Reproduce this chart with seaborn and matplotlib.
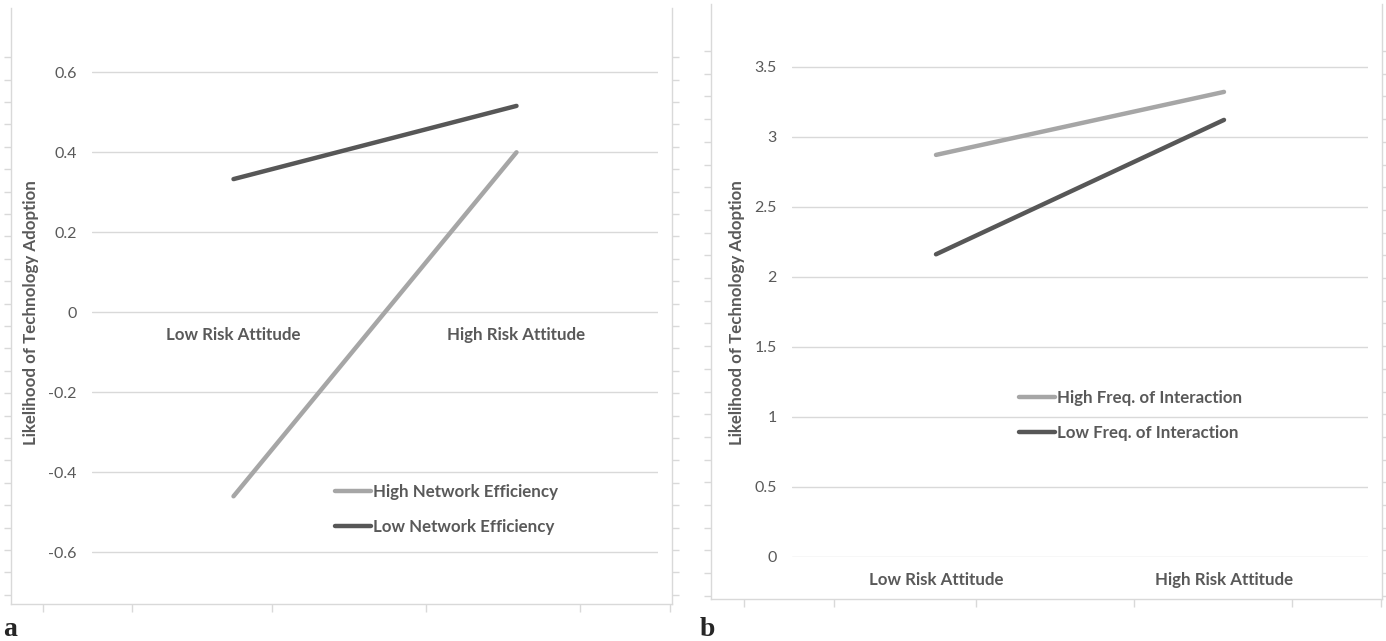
import numpy as np
import pandas as pd
import seaborn as sns
import matplotlib.pyplot as plt

# data
categories = ["Low Risk Attitude", "High Risk Attitude"]
a_groups = ["High Network Efficiency", "Low Network Efficiency"]
a_high = [-0.46, 0.40]
a_low = [0.333, 0.516]
a_yticks = [-0.6, -0.4, -0.2, 0, 0.2, 0.4, 0.6]

b_groups = ["High Freq. of Interaction", "Low Freq. of Interaction"]
b_high = [2.87, 3.32]
b_low = [2.16, 3.12]
b_yticks = [0, 0.5, 1, 1.5, 2, 2.5, 3, 3.5]

ylabel = "Likelihood of Technology Adoption"

sns.set_style("white")
plt.rcParams["font.family"] = ["Lato", "DejaVu Sans"]

W, H = 1386, 641
fig = plt.figure(figsize=(W / 100, H / 100), dpi=100, facecolor="white")

GRID = "#d9d9d9"
TXT = "#595959"
LIGHT = "#a6a6a6"
DARK = "#575757"


def px_axes(l, t, r, b):
    # figure fraction rect from pixel box (y from top)
    return [l / W, 1 - b / H, (r - l) / W, (b - t) / H]


def frame(l, t, r, b, side_start, side_step, bottom_ticks):
    fx = fig.add_axes(px_axes(l, t, r, b), facecolor="none", zorder=0)
    fx.set_xlim(l, r)
    fx.set_ylim(b, t)
    for s in ["left", "right", "bottom"]:
        fx.spines[s].set_color(GRID)
        fx.spines[s].set_linewidth(1)
    fx.spines["top"].set_visible(False)
    fx.set_yticks(np.arange(side_start, b - 3, side_step))
    fx.set_xticks(bottom_ticks)
    fx.tick_params(axis="y", left=True, right=True, direction="out", length=5,
                   width=1, color=GRID, labelleft=False)
    fx.tick_params(axis="x", bottom=True, direction="out", length=6,
                   width=1, color=GRID, labelbottom=False)
    fx.grid(False)


frame(11, 8, 672, 604, 57.3, 22.4, [42.5, 132, 271.5, 425.8, 580, 669.5])
frame(711, 4, 1382, 599, 51, 22.7, [743.5, 833.7, 975.6, 1134, 1291.5, 1380.8])


def panel(rect, groups, high, low, yticks, ylim, label_xy, leg_xy):
    ax = fig.add_axes(rect, facecolor="none", zorder=2)
    df = pd.DataFrame({
        "attitude": categories * 2,
        "value": high + low,
        "group": [groups[0]] * 2 + [groups[1]] * 2,
    })
    sns.lineplot(data=df, x="attitude", y="value", hue="group",
                 hue_order=groups, palette={groups[0]: LIGHT, groups[1]: DARK},
                 linewidth=3.2, solid_capstyle="round", ax=ax)
    ax.set_xlim(-0.5, 1.5)
    ax.set_ylim(*ylim)
    ax.set_yticks(yticks)
    ax.set_yticklabels([f"{v:g}" for v in yticks])
    ax.yaxis.grid(True, color=GRID, linewidth=1)
    ax.set_axisbelow(True)
    for s in ["left", "right", "top"]:
        ax.spines[s].set_visible(False)
    ax.spines["bottom"].set_position(("data", 0))
    ax.spines["bottom"].set_visible(False)
    ax.tick_params(axis="y", length=0, pad=11, labelsize=11.5, labelcolor=TXT)
    ax.tick_params(axis="x", length=0, pad=10.8, labelsize=12.2, labelcolor=TXT)
    for t in ax.get_xticklabels():
        t.set_fontweight("bold")
    ax.set_xlabel("")
    ax.set_ylabel(ylabel, fontsize=12.2, fontweight="bold", color=TXT)
    ax.yaxis.set_label_coords(*label_xy)
    handles, labels = ax.get_legend_handles_labels()
    leg = ax.legend(handles, labels, loc="center left",
                    bbox_to_anchor=(leg_xy[0] / W, 1 - leg_xy[1] / H),
                    bbox_transform=fig.transFigure, frameon=False,
                    handlelength=2.1, handletextpad=0.12, labelspacing=1.15,
                    borderpad=0, borderaxespad=0,
                    prop={"weight": "bold", "size": 12.2})
    for t in leg.get_texts():
        t.set_color(TXT)
    for h in leg.get_lines():
        h.set_linewidth(3.2)
    return ax


panel(px_axes(92, 32.3, 658, 592.3), a_groups, a_high, a_low, a_yticks,
      (-0.7, 0.7), (-0.0936, 0.5), (335, 509.5))
panel(px_axes(792, 24.7, 1368, 556.7), b_groups, b_high, b_low, b_yticks,
      (0, 3.8), (-0.0816, 0.459), (1019, 415.5))

fig.text(3 / W, 1 - 636 / H, "a", fontsize=20, fontweight="bold",
         family="Liberation Serif", va="baseline", ha="left")
fig.text(700 / W, 1 - 636 / H, "b", fontsize=20, fontweight="bold",
         family="Liberation Serif", va="baseline", ha="left")

fig.savefig("out.png", dpi=100, facecolor="white")
